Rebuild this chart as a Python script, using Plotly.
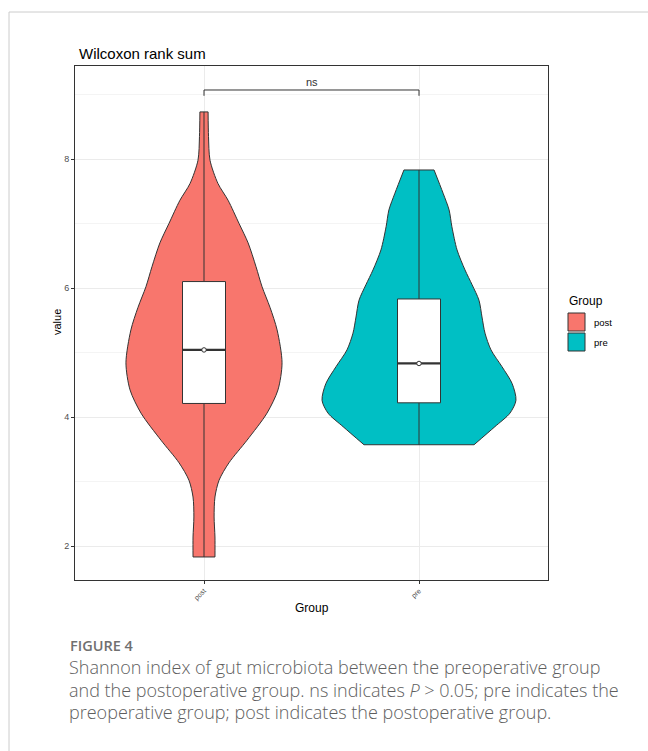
import plotly.graph_objects as go

# ---- data -------------------------------------------------------------
groups = ["post", "pre"]
group_pos = [1, 2]
fill_colors = ["#F8766D", "#00BFC4"]

# violin outlines: value and scaled half-width of the density
post_values = [1.83, 2.14, 2.45, 2.76, 3.02, 3.29, 3.64, 4.06, 4.42, 4.84, 5.35,
               5.70, 6.02, 6.33, 6.70, 7.00, 7.36, 7.62, 7.98, 8.35, 8.73]
post_density = [0.051, 0.051, 0.047, 0.051, 0.070, 0.116, 0.200, 0.293, 0.344, 0.363, 0.340,
                0.307, 0.270, 0.242, 0.205, 0.163, 0.112, 0.065, 0.028, 0.021, 0.019]
pre_values = [3.57, 3.85, 4.06, 4.26, 4.52, 4.78, 5.04, 5.30, 5.55, 5.81, 6.05,
              6.28, 6.59, 6.95, 7.21, 7.47, 7.83]
pre_density = [0.256, 0.353, 0.423, 0.451, 0.433, 0.386, 0.335, 0.307, 0.293, 0.279, 0.247,
               0.214, 0.177, 0.153, 0.140, 0.112, 0.070]

# box statistics per group
q1 = [4.21, 4.22]
median = [5.04, 4.83]
q3 = [6.10, 5.83]
lower = [1.83, 3.57]
upper = [8.73, 7.83]

y_ticks = [2, 4, 6, 8]
test_label = "ns"
bracket_y = 9.07

# ---- layout helpers (pixel -> paper) ---------------------------------
W, H = 648, 751
L, R, T, B = 75, 548, 66, 580


def px(x):
    return (x - L) / (R - L)


def py(y):
    return (B - y) / (B - T)


DARK = "#333333"
fig = go.Figure()


def line_trace(xs, ys, width=1.0, **kw):
    return go.Scatter(x=xs, y=ys, mode="lines", line=dict(color=DARK, width=width),
                      showlegend=False, hoverinfo="skip", **kw)


# violins: smooth left/right edges, filled between them, flat trimmed ends
profiles = [(post_values, post_density), (pre_values, pre_density)]
for pos, (vals, dens), col in zip(group_pos, profiles, fill_colors):
    edge = dict(color=DARK, width=1, shape="spline", smoothing=0.8)
    fig.add_trace(go.Scatter(x=[pos - d for d in dens], y=vals, mode="lines", line=edge,
                             showlegend=False, hoverinfo="skip"))
    fig.add_trace(go.Scatter(x=[pos + d for d in dens], y=vals, mode="lines", line=edge,
                             fill="tonextx", fillcolor=col,
                             showlegend=False, hoverinfo="skip"))
    for end in (0, -1):
        fig.add_trace(line_trace([pos - dens[end], pos + dens[end]], [vals[end], vals[end]]))

# boxplots: whiskers, box, thick median line
box_w = 0.2
for i, pos in enumerate(group_pos):
    left, right = pos - box_w / 2, pos + box_w / 2
    fig.add_trace(line_trace([pos, pos], [q3[i], upper[i]]))
    fig.add_trace(line_trace([pos, pos], [lower[i], q1[i]]))
    fig.add_trace(line_trace([left, right, right, left, left],
                             [q1[i], q1[i], q3[i], q3[i], q1[i]],
                             fill="toself", fillcolor="white"))
    fig.add_trace(line_trace([left, right], [median[i], median[i]], width=2.2))

# median points
fig.add_trace(go.Scatter(
    x=group_pos, y=median, mode="markers",
    marker=dict(size=4.5, color="white", line=dict(color=DARK, width=1)),
    showlegend=False, hoverinfo="skip"))

# significance bracket
fig.add_trace(line_trace(
    [group_pos[0], group_pos[0], group_pos[1], group_pos[1]],
    [bracket_y - 0.09, bracket_y, bracket_y, bracket_y - 0.09]))

annotations = [
    dict(x=1.5, y=bracket_y + 0.12, xref="x", yref="y", text=test_label, showarrow=False,
         font=dict(family="Liberation Sans", size=11, color="#333333")),
    dict(x=px(77), y=py(53), xref="paper", yref="paper", text="Wilcoxon rank sum",
         showarrow=False, xanchor="left", yanchor="middle",
         font=dict(family="Liberation Sans", size=15, color="black")),
    dict(x=px(312), y=py(608), xref="paper", yref="paper", text="Group", showarrow=False,
         xanchor="center", yanchor="middle",
         font=dict(family="Liberation Sans", size=12, color="black")),
    dict(x=px(57), y=py(322), xref="paper", yref="paper", text="value", showarrow=False,
         textangle=-90, xanchor="center", yanchor="middle",
         font=dict(family="Liberation Sans", size=11, color="black")),
    # legend
    dict(x=px(567), y=py(301), xref="paper", yref="paper", text="Group", showarrow=False,
         xanchor="left", yanchor="middle",
         font=dict(family="Liberation Sans", size=12, color="black")),
    dict(x=px(592), y=py(322), xref="paper", yref="paper", text=groups[0], showarrow=False,
         xanchor="left", yanchor="middle",
         font=dict(family="Liberation Sans", size=9.5, color="black")),
    dict(x=px(592), y=py(342), xref="paper", yref="paper", text=groups[1], showarrow=False,
         xanchor="left", yanchor="middle",
         font=dict(family="Liberation Sans", size=9.5, color="black")),
    # caption
    dict(x=px(68), y=py(645), xref="paper", yref="paper", text="FIGURE 4", showarrow=False,
         xanchor="left", yanchor="middle",
         font=dict(family="Open Sans", size=14.5, color="#707070", weight=600)),
]
caption_lines = [
    "Shannon index of gut microbiota between the preoperative group",
    "and the postoperative group. ns indicates <i>P</i> &gt; 0.05; pre indicates the",
    "preoperative group; post indicates the postoperative group.",
]
for k, line in enumerate(caption_lines):
    annotations.append(dict(
        x=px(67), y=py(667 + 22.5 * k), xref="paper", yref="paper", text=line,
        showarrow=False, xanchor="left", yanchor="middle",
        font=dict(family="Open Sans", size=18, color="#5e5e5e", weight=300)))

shapes = [
    # outer card frame
    dict(type="rect", xref="paper", yref="paper", x0=px(9), y0=py(12), x1=px(700), y1=py(800),
         line=dict(color="#cccccc", width=1), layer="below"),
]
for k, col in enumerate(fill_colors):
    shapes.append(dict(type="rect", xref="paper", yref="paper",
                       x0=px(568), x1=px(585), y0=py(313 + 20 * k), y1=py(331 + 20 * k),
                       fillcolor=col, line=dict(color=DARK, width=1)))

fig.update_layout(
    width=W, height=H,
    margin=dict(l=L, r=W - R, t=T, b=H - B),
    paper_bgcolor="white", plot_bgcolor="white",
    showlegend=False,
    annotations=annotations, shapes=shapes,
    xaxis=dict(range=[0.4, 2.6], tickvals=group_pos, ticktext=groups, tickangle=-45,
               tickfont=dict(family="Liberation Sans", size=7, color="#4d4d4d"),
               ticks="outside", ticklen=3, tickcolor=DARK,
               showgrid=True, gridcolor="#ebebeb", gridwidth=1,
               showline=True, linecolor=DARK, linewidth=1, mirror=True, zeroline=False),
    yaxis=dict(range=[1.473, 9.442], tickvals=y_ticks,
               tickfont=dict(family="Liberation Sans", size=9, color="#4d4d4d"),
               ticks="outside", ticklen=3, tickcolor=DARK,
               showgrid=True, gridcolor="#ebebeb", gridwidth=1,
               minor=dict(tickvals=[3, 5, 7, 9], showgrid=True, gridcolor="#f4f4f4", gridwidth=1),
               showline=True, linecolor=DARK, linewidth=1, mirror=True, zeroline=False),
)

fig.write_html("out.html")
